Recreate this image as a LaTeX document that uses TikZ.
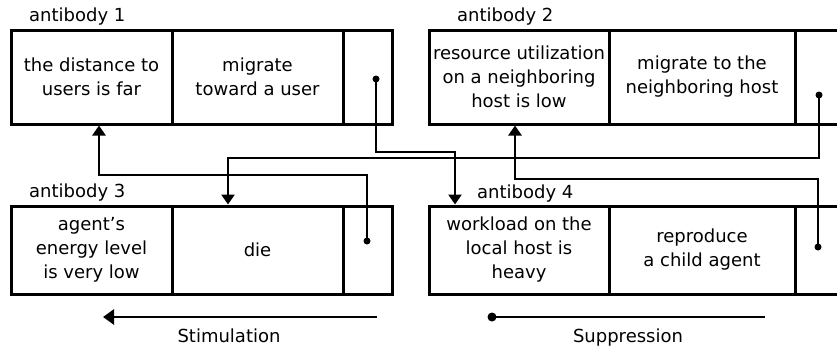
\documentclass[tikz,border=0pt]{standalone}
\usepackage{fontspec}
\setmainfont{DejaVu Sans}
\usetikzlibrary{arrows.meta}
\begin{document}
\begin{tikzpicture}[x=1pt,y=-1pt,
  cell/.style={draw, line width=3pt, align=center, inner sep=0pt, font=\fontsize{18}{24}\selectfont, text=black},
  lbl/.style={font=\fontsize{18}{22}\selectfont, anchor=base west, inner sep=0pt, text=black},
  leg/.style={font=\fontsize{18}{22}\selectfont, anchor=base, inner sep=0pt, text=black},
  conn/.style={line width=2.8pt},
  arr/.style={-{Triangle[length=10pt,width=13pt]}},
  bigarr/.style={-{Triangle[length=11pt,width=15pt]}},
  dot/.style={circle, fill, inner sep=0pt, minimum size=7pt}]
\useasboundingbox (0,0) rectangle (837,351);
\clip (0,0) rectangle (837,351);

% antibody 1
\node[lbl] (l1) at (29,21) {antibody 1};
\node[cell, minimum width=161pt, minimum height=94pt] (c11) at (91.5,77) {the distance to\\users is far};
\node[cell, minimum width=171pt, minimum height=94pt] (c12) at (257.5,77) {migrate\\toward a user};
\node[cell, minimum width=49pt, minimum height=94pt] (c13) at (367.5,77) {};

% antibody 2
\node[lbl] (l2) at (457,21) {antibody 2};
\node[cell, minimum width=180pt, minimum height=94pt] (c21) at (519,77) {resource utilization\\on a neighboring\\host is low};
\node[cell, minimum width=186pt, minimum height=94pt] (c22) at (702,77) {migrate to the\\neighboring host};
\node[cell, minimum width=49pt, minimum height=94pt] (c23) at (819.5,77) {};

% antibody 3
\node[lbl] (l3) at (29,197) {antibody 3};
\node[cell, minimum width=161pt, minimum height=88pt] (c31) at (91.5,250) {agent's\\energy level\\is very low};
\node[cell, minimum width=171pt, minimum height=88pt] (c32) at (257.5,250) {die};
\node[cell, minimum width=49pt, minimum height=88pt] (c33) at (367.5,250) {};

% antibody 4
\node[lbl] (l4) at (477,198) {antibody 4};
\node[cell, minimum width=180pt, minimum height=88pt] (c41) at (519,250) {workload on the\\local host is\\heavy};
\node[cell, minimum width=186pt, minimum height=88pt] (c42) at (702,250) {reproduce\\a child agent};
\node[cell, minimum width=49pt, minimum height=88pt] (c43) at (819.5,250) {};

% dots
\node[dot] (d1) at (376,79) {};
\node[dot] (d2) at (819,95) {};
\node[dot] (d3) at (367,241) {};
\node[dot] (d4) at (818,247) {};

% column helpers
\coordinate (xa) at (455,0);
\coordinate (xb) at (228,0);
\coordinate (xc) at (99,0);
\coordinate (xd) at (515,0);

% connectors
\draw[conn,arr] (d1.center) -- ++(0,73) -| (c41.north -| xa);
\draw[conn,arr] (d2.center) -- ++(0,63) -| (c32.north -| xb);
\draw[conn,arr] (d3.center) -- ++(0,-66) -| (c11.south -| xc);
\draw[conn,arr] (d4.center) -- ++(0,-68) -| (c21.south -| xd);

% legend
\coordinate (s1) at (377,317);
\coordinate (s2) at (103,317);
\draw[conn,bigarr] (s1) -- (s2);
\node[leg] (st) at (229,342) {Stimulation};
\node[dot, minimum size=9pt] (p1) at (492,317) {};
\coordinate (p2) at (765,317);
\draw[conn] (p1.center) -- (p2);
\node[leg] (su) at (628,342) {Suppression};
\end{tikzpicture}
\end{document}
